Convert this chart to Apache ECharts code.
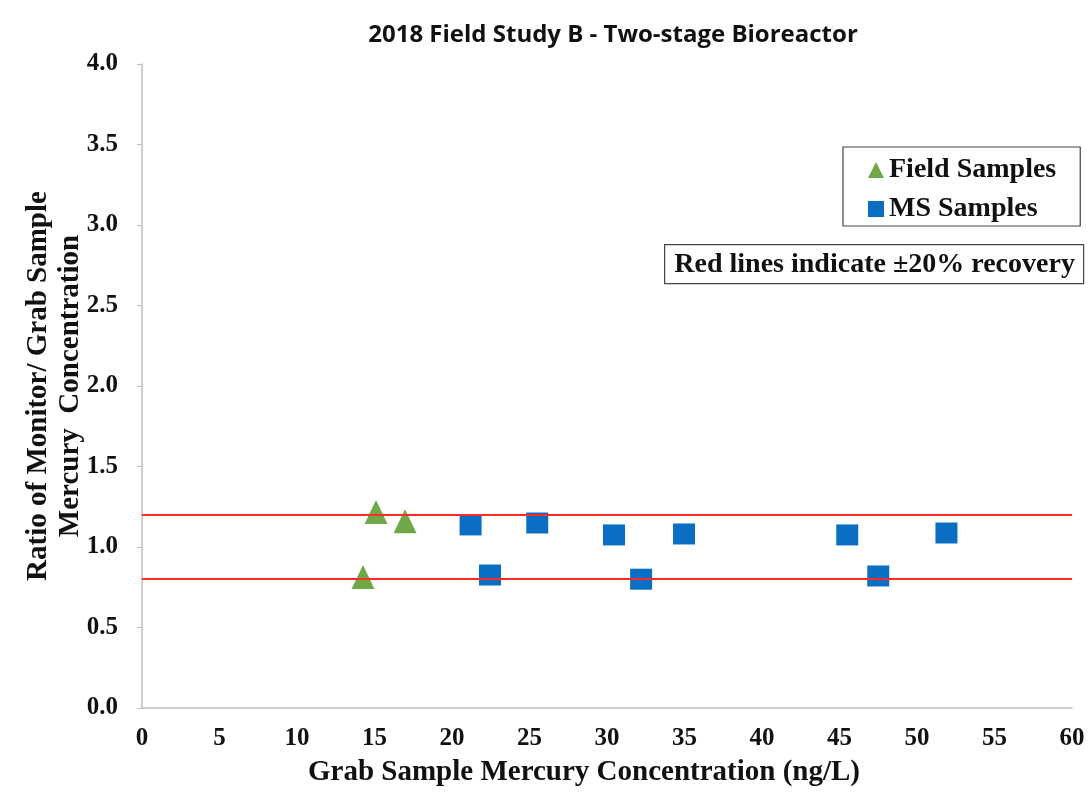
<!DOCTYPE html>
<html>
<head>
<meta charset="utf-8">
<script src="https://cdn.jsdelivr.net/npm/echarts@6/dist/echarts.min.js"></script>
<style>html,body{margin:0;padding:0;background:#fff}#c{width:1092px;height:795px}</style>
</head>
<body>
<div id="c"></div>
<script>
var fieldSamples = [[15.1, 1.217], [16.97, 1.16], [14.26, 0.814]];
var msSamples = [[21.2, 1.137], [22.45, 0.826], [25.5, 1.149], [30.45, 1.075], [32.2, 0.80], [34.97, 1.081], [45.5, 1.075], [47.5, 0.82], [51.9, 1.087]];
var recoveryLimits = [1.2, 0.8];
var xTicks = {min: 0, max: 60, interval: 5};
var yTicks = {min: 0, max: 4, interval: 0.5};

var serif = "'Liberation Serif', 'Times New Roman', serif";
var chart = echarts.init(document.getElementById('c'));
chart.setOption({
  backgroundColor: '#fff',
  animation: false,
  title: {
    text: '2018 Field Study B - Two-stage Bioreactor',
    left: 608, top: 18, textAlign: 'center',
    textStyle: {fontFamily: "'Open Sans', 'Liberation Sans', sans-serif", fontWeight: 'bold', fontSize: 24, color: '#111'}
  },
  grid: {left: 142, right: 20, top: 64, bottom: 87},
  legend: {
    orient: 'vertical', left: 843, top: 147,
    padding: [9, 24, 3, 25],
    itemGap: 11, itemWidth: 16, itemHeight: 16,
    borderColor: '#444', borderWidth: 1.2,
    textStyle: {fontFamily: serif, fontWeight: 'bold', fontSize: 28, color: '#111', lineHeight: 28},
    data: [{name: 'Field Samples', icon: 'triangle'}, {name: 'MS Samples', icon: 'rect'}]
  },
  xAxis: {
    type: 'value', min: xTicks.min, max: xTicks.max, interval: xTicks.interval,
    name: 'Grab Sample Mercury Concentration (ng/L)', nameLocation: 'middle', nameGap: 50,
    nameMoveOverlap: false,
    nameTextStyle: {fontFamily: serif, fontWeight: 'bold', fontSize: 29, color: '#111', padding: [0, 46, 0, 0]},
    axisLine: {lineStyle: {color: '#bfbfbf', width: 1.5}},
    axisTick: {show: false},
    splitLine: {show: false},
    axisLabel: {fontFamily: serif, fontWeight: 'bold', fontSize: 25, color: '#111', margin: 18}
  },
  yAxis: {
    type: 'value', min: yTicks.min, max: yTicks.max, interval: yTicks.interval,
    name: 'Ratio of Monitor/ Grab Sample\nMercury  Concentration', nameLocation: 'middle', nameGap: 55,
    nameMoveOverlap: false,
    nameTextStyle: {fontFamily: serif, fontWeight: 'bold', fontSize: 29, color: '#111', lineHeight: 32},
    axisLine: {show: true, lineStyle: {color: '#bfbfbf', width: 1.5}},
    axisTick: {show: true, length: 5, lineStyle: {color: '#bfbfbf'}},
    splitLine: {show: false},
    axisLabel: {fontFamily: serif, fontWeight: 'bold', fontSize: 25, color: '#111', margin: 24,
      formatter: function (v) { return v.toFixed(1); }}
  },
  graphic: [{
    type: 'group', left: 664, top: 244,
    children: [
      {type: 'rect', shape: {x: 0, y: 0, width: 419, height: 39}, style: {fill: '#fff', stroke: '#444', lineWidth: 1.2}},
      {type: 'text', style: {x: 210, y: 20, text: 'Red lines indicate \u00b120% recovery', align: 'center', verticalAlign: 'middle',
        font: "bold 28px 'Liberation Serif', serif", fill: '#111'}}
    ]
  }],
  series: [
    {
      name: 'Red limits', type: 'scatter', data: [], silent: true,
      markLine: {
        silent: true, symbol: ['none', 'none'], label: {show: false},
        lineStyle: {color: '#ff2a2a', width: 2, type: 'solid'},
        data: recoveryLimits.map(function (v) { return {yAxis: v}; })
      }
    },
    {
      name: 'Field Samples', type: 'scatter', symbol: 'triangle', symbolSize: [23, 24],
      itemStyle: {color: '#70a848', opacity: 1}, data: fieldSamples, z: 3
    },
    {
      name: 'MS Samples', type: 'scatter', symbol: 'rect', symbolSize: [22, 21],
      itemStyle: {color: '#0a6fc2', opacity: 1}, data: msSamples, z: 3
    }
  ]
});
</script>
</body>
</html>
